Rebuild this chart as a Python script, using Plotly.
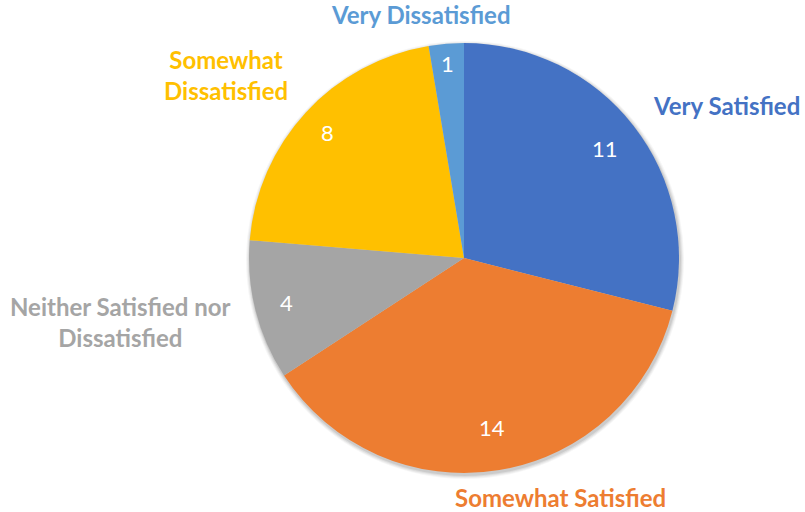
import math
import plotly.graph_objects as go

# Survey responses, clockwise from 12 o'clock
categories = ["Very Satisfied", "Somewhat Satisfied", "Neither Satisfied nor Dissatisfied",
              "Somewhat Dissatisfied", "Very Dissatisfied"]
counts = [11, 14, 4, 8, 1]
colors = ["#4472C4", "#ED7D31", "#A5A5A5", "#FFC000", "#5B9BD5"]

# Category labels drawn outside the pie (display text and pixel position)
outside_text = ["Very Satisfied", "Somewhat Satisfied", "Neither Satisfied nor<br>Dissatisfied",
                "Somewhat<br>Dissatisfied", "Very Dissatisfied"]
outside_pos = [(726, 105), (560, 497), (120, 322), (226, 75), (421, 14)]
# radial position of the value labels, as a fraction of the radius
value_radius = [0.83, 0.80, 0.85, 0.86, 0.91]

W, H = 805, 512
CX, CY, R = 464, 258, 215
FONT = "Lato"


def domain_for(cx, cy, r):
    return dict(x=[(cx - r) / W, (cx + r) / W], y=[1 - (cy + r) / H, 1 - (cy - r) / H])


fig = go.Figure()

# soft drop shadow beneath the pie
for k, alpha in [(4, 0.035), (3, 0.045), (2, 0.06), (1, 0.08)]:
    fig.add_trace(go.Pie(
        values=[1], labels=["shadow"], sort=False, textinfo="none", hoverinfo="skip",
        marker=dict(colors=["rgba(0,0,0,%s)" % alpha], line=dict(width=0)),
        showlegend=False, domain=domain_for(CX + 1, CY + 2, R + k),
    ))

fig.add_trace(go.Pie(
    labels=categories,
    values=counts,
    sort=False,
    direction="clockwise",
    rotation=0,
    marker=dict(colors=colors, line=dict(width=0)),
    textinfo="none",
    hoverinfo="label+value",
    showlegend=False,
    domain=domain_for(CX, CY, R),
))

total = sum(counts)
cum = 0
annotations = []
for cat, val, col, txt, (lx, ly), rf in zip(categories, counts, colors, outside_text,
                                            outside_pos, value_radius):
    mid = (cum + val / 2) / total * 2 * math.pi
    cum += val
    vx = CX + rf * R * math.sin(mid)
    vy = CY - rf * R * math.cos(mid)
    annotations.append(dict(
        x=vx / W, y=1 - vy / H, xref="paper", yref="paper", text=str(val),
        showarrow=False, font=dict(family=FONT, size=22, color="white"),
        xanchor="center", yanchor="middle"))
    annotations.append(dict(
        x=lx / W, y=1 - ly / H, xref="paper", yref="paper", text="<b>%s</b>" % txt,
        showarrow=False, font=dict(family=FONT, size=24, color=col),
        xanchor="center", yanchor="middle", align="center"))

fig.update_layout(
    width=W, height=H,
    margin=dict(l=0, r=0, t=0, b=0),
    paper_bgcolor="white",
    plot_bgcolor="white",
    annotations=annotations,
)

fig.write_html("out.html")
